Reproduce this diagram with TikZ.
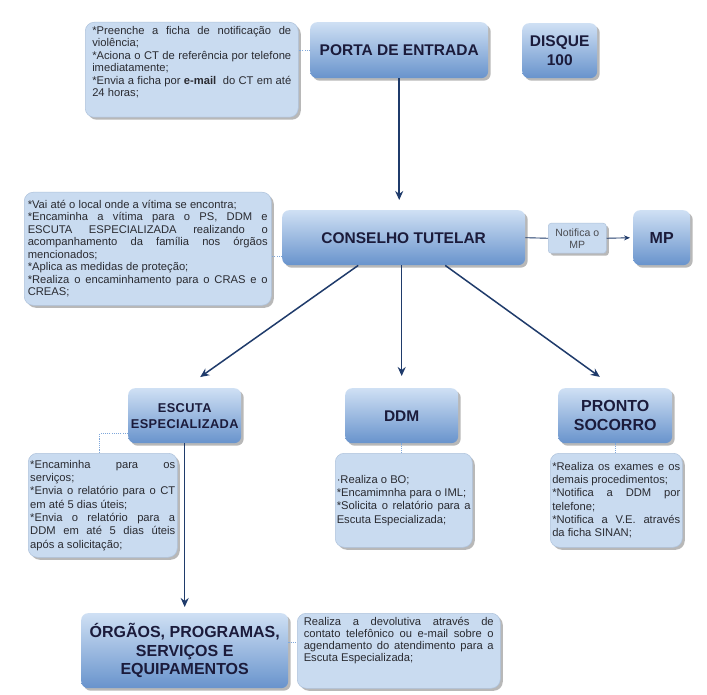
\documentclass[tikz,border=0pt]{standalone}
\usepackage{fontspec}
\setmainfont{Liberation Sans}
\usetikzlibrary{shadows,arrows.meta,calc}
\definecolor{hdtop}{HTML}{CFE0F4}
\definecolor{hdbot}{HTML}{6893CC}
\definecolor{tbfill}{HTML}{C9DBF0}
\definecolor{tbdraw}{HTML}{AFC3DC}
\definecolor{navy}{HTML}{1F3B6B}
\definecolor{hdtext}{HTML}{1B1B3B}
\definecolor{bodytext}{HTML}{2A2B31}
\definecolor{dotblue}{HTML}{7FA7DA}
\newcommand\jb[2]{\parbox{#1}{\tolerance=10000\hyphenpenalty=10000\exhyphenpenalty=10000\relax #2}}
\newcommand\jbt[3]{\parbox[c][#1][t]{#2}{\tolerance=10000\hyphenpenalty=10000\exhyphenpenalty=10000\relax #3}}
\tikzset{
  x=1pt, y=-1pt,
  shad/.style={drop shadow={shadow xshift=2.5pt, shadow yshift=-2.5pt, fill=black, opacity=0.28}},
  hdr/.style={shad, rounded corners=7pt, top color=hdtop, bottom color=hdbot, draw=none,
    text=hdtext, align=center, inner sep=2pt, anchor=north west,
    font=\bfseries\fontsize{15.5}{18.5}\selectfont},
  tbx/.style={shad, rounded corners=9pt, fill=tbfill, draw=tbdraw, line width=0.5pt,
    text=bodytext, inner sep=0pt, anchor=north west,
    font=\fontsize{11.2}{12.5}\selectfont},
  tbxl/.style={tbx, font=\fontsize{11.2}{13.3}\selectfont},
  tbxs/.style={tbx, font=\fontsize{11.2}{12}\selectfont},
  nbox/.style={shad, rounded corners=3pt, fill=tbfill, draw=tbdraw, line width=0.5pt,
    text=bodytext!85!white, align=center, inner sep=1pt, anchor=north west,
    font=\fontsize{10.5}{12}\selectfont},
  arr/.style={draw=navy, line width=1.5pt, -{Stealth[length=9pt,width=8pt]}},
  thinarr/.style={draw=navy, line width=0.9pt, -{Stealth[length=6pt,width=5pt]}},
  thinline/.style={draw=navy, line width=0.9pt},
  dotc/.style={draw=dotblue, line width=1.3pt, dash pattern=on 1.1pt off 1.1pt},
}
\begin{document}
\begin{tikzpicture}
\useasboundingbox (0,0) rectangle (707,695);
\fill[white] (0,0) rectangle (707,695);

% header boxes
\node[hdr, minimum width=178pt, minimum height=56pt] (porta) at (310,22) {PORTA DE ENTRADA};
\node[hdr, minimum width=75pt, minimum height=55pt] (disque) at (522,23) {DISQUE\\100};
\node[hdr, minimum width=243pt, minimum height=55pt] (ct) at (282,210) {CONSELHO TUTELAR};
\node[nbox, minimum width=58pt, minimum height=30pt] (nm) at (548,223) {Notifica o\\MP};
\node[hdr, minimum width=57pt, minimum height=55pt, font=\bfseries\fontsize{16}{19}\selectfont] (mp) at (633,210) {MP};
\node[hdr, minimum width=113pt, minimum height=55pt, font=\bfseries\fontsize{12.8}{16}\selectfont\addfontfeature{LetterSpace=3}] (esc) at (128,388) {ESCUTA\\ESPECIALIZADA};
\node[hdr, minimum width=113pt, minimum height=55pt] (ddm) at (345,388) {DDM};
\node[hdr, minimum width=114pt, minimum height=55pt, font=\bfseries\fontsize{16}{19}\selectfont] (ps) at (558,388) {PRONTO\\SOCORRO};
\node[hdr, minimum width=207pt, minimum height=75pt, font=\bfseries\fontsize{16}{18.4}\selectfont] (org) at (81,613) {ÓRGÃOS, PROGRAMAS,\\SERVIÇOS E\\EQUIPAMENTOS};

% text boxes
\node[tbx, minimum width=213pt, minimum height=95pt] (pt) at (85,22) {\jbt{87pt}{199pt}{%
*Preenche a ficha de notificação de\linebreak violência;\par
*Aciona o CT de referência por telefone\linebreak imediatamente;\par
*Envia a ficha por \textbf{e-mail}\ \ do CT em até\linebreak 24 horas;}};

\node[tbx, minimum width=247pt, minimum height=113pt] (ctt) at (24,192) {\jb{240pt}{%
*Vai até o local onde a vítima se encontra;\par
*Encaminha a vítima para o PS, DDM e\linebreak ESCUTA ESPECIALIZADA realizando o\linebreak acompanhamento da família nos órgãos\linebreak mencionados;\par
*Aplica as medidas de proteção;\par
*Realiza o encaminhamento para o CRAS e o\linebreak CREAS;}};

\node[tbxl, minimum width=149pt, minimum height=104pt] (ett) at (28,453) {\jb{145pt}{%
*Encaminha para os\linebreak serviços;\par
*Envia o relatório para o CT\linebreak em até 5 dias úteis;\par
*Envia o relatório para a\linebreak DDM em até 5 dias úteis\linebreak após a solicitação;}};

\node[tbxl, minimum width=137pt, minimum height=94pt] (ddmt) at (335,453) {\jb{134pt}{%
·Realiza o BO;\par
*Encamimnha para o IML;\par
*Solicita o relatório para a\linebreak Escuta Especializada;}};

\node[tbxl, minimum width=132pt, minimum height=94pt] (pst) at (550,453) {\jb{128pt}{%
*Realiza os exames e os\linebreak demais procedimentos;\par
*Notifica a DDM por\linebreak telefone;\par
*Notifica a V.E. através\linebreak da ficha SINAN;}};

\node[tbxs, minimum width=203pt, minimum height=75pt] (ot) at (297,613) {\jbt{67pt}{190pt}{%
Realiza a devolutiva através de\linebreak contato telefônico ou e-mail sobre o\linebreak agendamento do atendimento para a\linebreak Escuta Especializada;}};

% dotted connectors
\draw[dotc] (porta.west) -- (porta.west -| pt.east);
\draw[dotc] ([yshift=-19pt]ct.west) -- ([yshift=-19pt]ct.west -| ctt.east);
\draw[dotc] ([yshift=-18pt]esc.west) -| ([xshift=-3pt]ett.north);
\draw[dotc] (ddm.south) -- (ddm.south |- ddmt.north);
\draw[dotc] (ps.south) -- (ps.south |- pst.north);
\draw[dotc] ([yshift=8pt]org.east) -- ([yshift=8pt]org.east -| ot.west);

% arrows
\draw[arr, shorten >=10pt] (porta.south) -- (porta.south |- ct.north);
\draw[thinline] (ct.east) -- (nm.west);
\draw[thinarr, shorten >=3pt] (nm.east) -- (mp.west);
\draw[arr, shorten >=19pt] ([xshift=-45.5pt]ct.south) -- (esc.north);
\draw[arr, shorten >=12pt] (ddm.north |- ct.south) -- (ddm.north);
\draw[arr, shorten >=19pt] ([xshift=41.5pt]ct.south) -- (ps.north);
\draw[arr, shorten >=6pt] (esc.south) -- (org.north);
\end{tikzpicture}
\end{document}
